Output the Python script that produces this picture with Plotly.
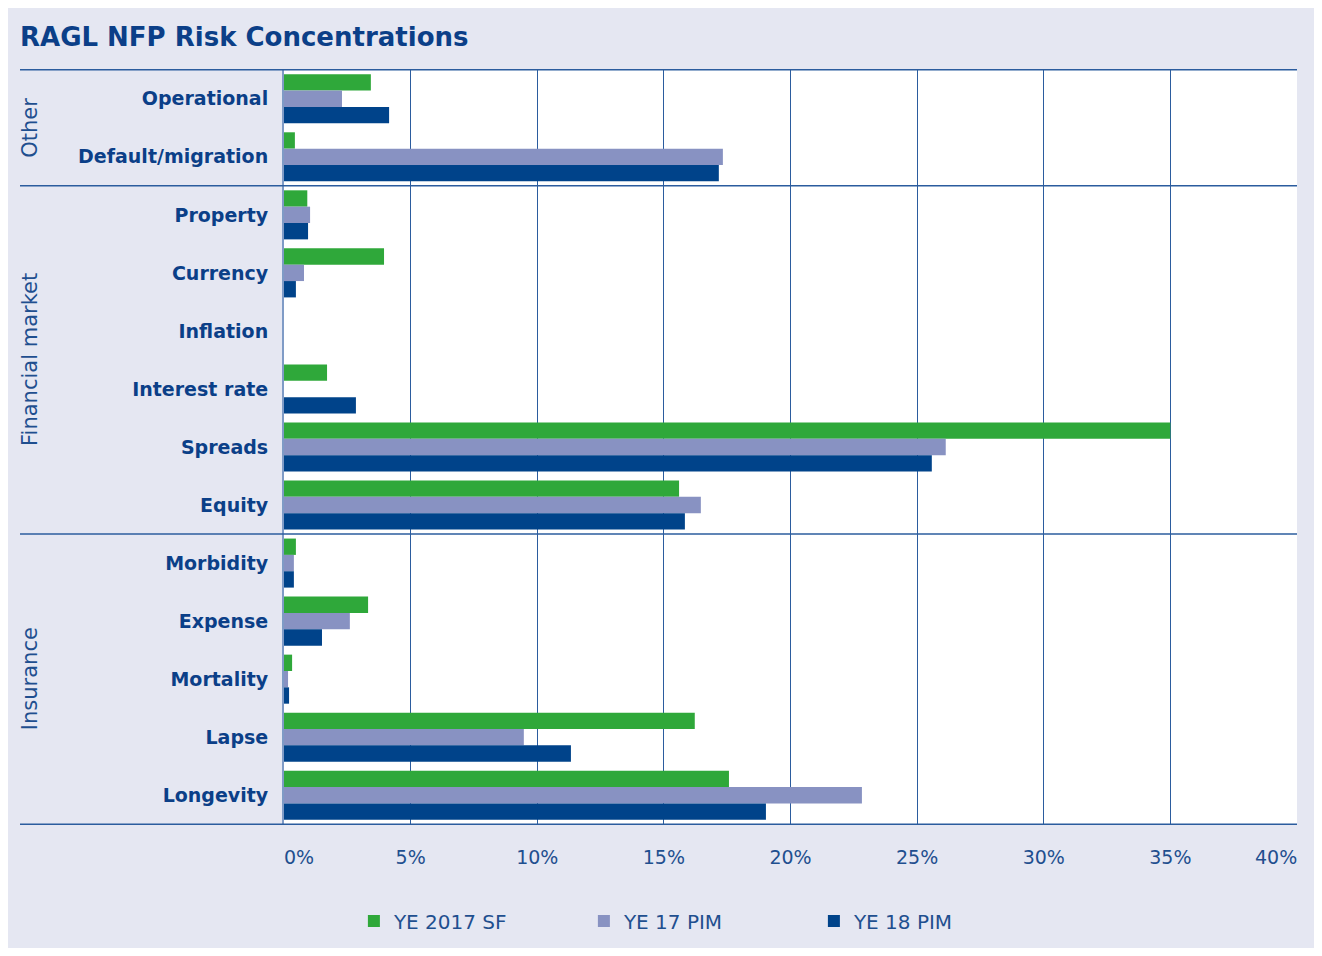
import plotly.graph_objects as go

categories = ["Operational", "Default/migration", "Property", "Currency", "Inflation",
              "Interest rate", "Spreads", "Equity", "Morbidity", "Expense", "Mortality",
              "Lapse", "Longevity"]
ye2017_sf = [3.43, 0.43, 0.92, 3.95, 0.0, 1.70, 35.0, 15.6, 0.47, 3.32, 0.32, 16.22, 17.57]
ye17_pim = [2.29, 17.33, 1.03, 0.79, 0.0, 0.0, 26.13, 16.46, 0.39, 2.6, 0.16, 9.47, 22.82]
ye18_pim = [4.15, 17.17, 0.95, 0.47, 0.0, 2.84, 25.58, 15.83, 0.39, 1.5, 0.2, 11.33, 19.03]
series_names = ["YE 2017 SF", "YE 17 PIM", "YE 18 PIM"]
groups = [("Other", 0, 1), ("Financial market", 2, 7), ("Insurance", 8, 12)]
x_ticks = [0, 5, 10, 15, 20, 25, 30, 35, 40]
x_tick_labels = [f"{v}%" for v in x_ticks]

# first tick label starts at the plot edge, last one ends at it (as in the original)
tick_text = list(x_tick_labels)
first_label, last_label = tick_text[0], tick_text[-1]
tick_text[0] = ""
tick_text[-1] = ""

colors = ["#2fa83a", "#8892c2", "#00438a"]
navy = "#0b3f88"
label_blue = "#1f4f8f"
lav_bg = "#e5e7f2"

fig = go.Figure()
for name, vals, col in zip(series_names, [ye2017_sf, ye17_pim, ye18_pim], colors):
    fig.add_trace(go.Bar(y=categories, x=vals, name=name, orientation="h",
                         marker=dict(color=col, line=dict(width=0))))

# page has an 8px body margin; figure coords = reference coords - 8
OFF = 8
W, H = 1306, 940
L = 284 - OFF
T = 69 - OFF
R = W - (1297 - OFF)
B = H - (825 - OFF)
pw, ph = W - L - R, H - T - B

def px_x(x):
    return (x - OFF - L) / pw

def px_y(y):
    return (H - B - (y - OFF)) / ph

shapes = []
bounds = [-0.5] + [g[2] + 0.5 for g in groups]
for b in bounds:
    shapes.append(dict(type="line", xref="paper", yref="y", x0=px_x(20), x1=1,
                       y0=b, y1=b, line=dict(color="#2b5c9e", width=1.5), layer="above"))

tick_font = dict(family="DejaVu Sans", size=19, color=label_blue)
annotations = []
for gname, a, b in groups:
    annotations.append(dict(text=gname, xref="paper", yref="y", x=px_x(30),
                            y=(a + b) / 2, textangle=-90, showarrow=False,
                            xanchor="center", yanchor="middle",
                            font=dict(family="DejaVu Sans", size=21, color=label_blue)))
annotations.append(dict(text=first_label, xref="x", yref="paper", x=x_ticks[0], y=px_y(857),
                        xanchor="left", yanchor="middle", showarrow=False,
                        xshift=-2, font=tick_font))
annotations.append(dict(text=last_label, xref="x", yref="paper", x=x_ticks[-1], y=px_y(857),
                        xanchor="right", yanchor="middle", showarrow=False,
                        xshift=2, font=tick_font))

fig.update_layout(
    width=W, height=H,
    margin=dict(l=L, r=R, t=T, b=B, autoexpand=False),
    paper_bgcolor=lav_bg, plot_bgcolor="white",
    barmode="group", bargap=0.155, bargroupgap=0.0,
    title=dict(text="<b>RAGL NFP Risk Concentrations</b>", xref="container", yref="container",
               x=(20 - OFF) / W, xanchor="left", y=1 - (37 - OFF) / H, yanchor="middle",
               font=dict(family="DejaVu Sans", size=26, color=navy)),
    xaxis=dict(range=[0, 40], tickvals=x_ticks, ticktext=tick_text, automargin=False,
               showgrid=True, gridcolor="#2b5c9e", gridwidth=1.3, zeroline=False,
               showline=False, ticks="", ticklabelstandoff=19,
               tickfont=tick_font),
    yaxis=dict(autorange="reversed", showgrid=False, zeroline=False, automargin=False,
               showline=True, linecolor="#7f9bc6", linewidth=2,
               ticks="", ticklabelstandoff=10,
               tickfont=dict(family="DejaVu Sans", size=19, color=navy, weight="bold")),
    legend=dict(orientation="h", x=0.069, xanchor="left", y=px_y(921), yanchor="middle",
                entrywidth=185, entrywidthmode="pixels", bgcolor="rgba(0,0,0,0)",
                font=dict(family="DejaVu Sans", size=20, color=label_blue), traceorder="normal"),
    shapes=shapes,
    annotations=annotations,
)

fig.write_html("out.html")
